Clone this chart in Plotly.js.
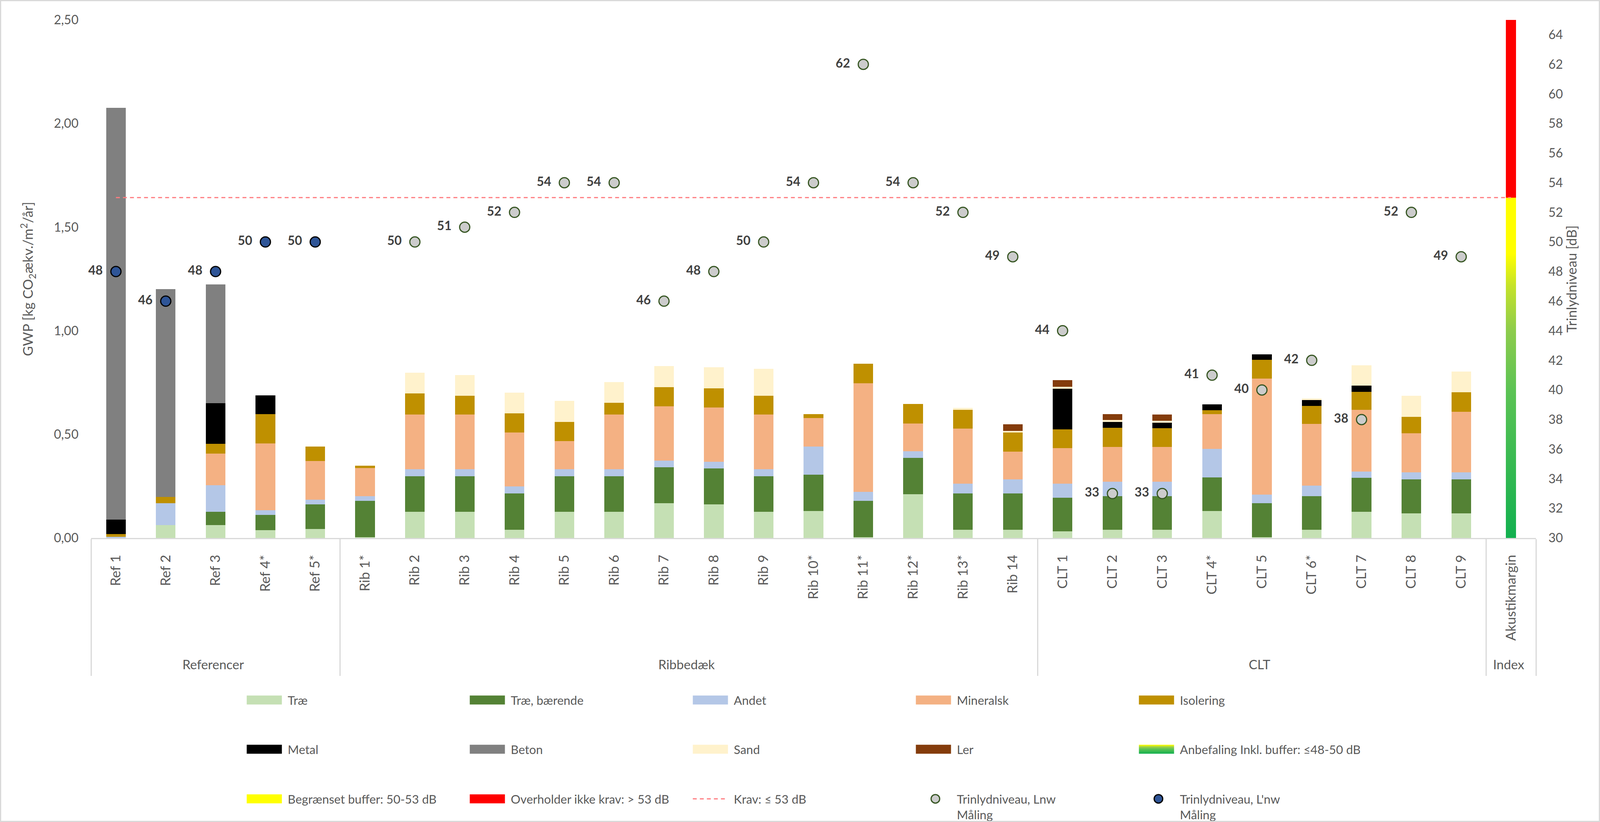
<!DOCTYPE html>
<html><head><meta charset="utf-8">
<script src="https://cdn.plot.ly/plotly-3.0.1.min.js"></script>
<style>
html,body{margin:0;padding:0;background:#fff;overflow:hidden;}
#wrap{position:relative;overflow:hidden;}
#frame{position:absolute;left:0;top:0;box-sizing:border-box;border:3px solid #D9D9D9;pointer-events:none;}
</style></head><body>
<div id="wrap"><div id="chart"></div><div id="frame"></div></div>
<script>
// ---------- DATA ----------
const groups = ['Referencer','Referencer','Referencer','Referencer','Referencer',
  'Ribbedæk','Ribbedæk','Ribbedæk','Ribbedæk','Ribbedæk','Ribbedæk','Ribbedæk','Ribbedæk','Ribbedæk','Ribbedæk','Ribbedæk','Ribbedæk','Ribbedæk','Ribbedæk',
  'CLT','CLT','CLT','CLT','CLT','CLT','CLT','CLT','CLT','Index'];
const categories = ['Ref 1','Ref 2','Ref 3','Ref 4*','Ref 5*',
  'Rib 1*','Rib 2','Rib 3','Rib 4','Rib 5','Rib 6','Rib 7','Rib 8','Rib 9','Rib 10*','Rib 11*','Rib 12*','Rib 13*','Rib 14',
  'CLT 1','CLT 2','CLT 3','CLT 4*','CLT 5','CLT 6*','CLT 7','CLT 8','CLT 9','Akustikmargin'];

// GWP [kg CO2-ækv./m²/år] per material group
const trae       = [0,0.063,0.063,0.037,0.044, 0.003,0.126,0.126,0.040,0.126,0.126,0.168,0.162,0.126,0.131,0.003,0.211,0.040,0.040, 0.033,0.040,0.040,0.131,0.003,0.040,0.126,0.119,0.119, null];
const traeBaer   = [0,0,0.063,0.075,0.118, 0.177,0.172,0.172,0.175,0.172,0.172,0.174,0.173,0.172,0.174,0.177,0.176,0.175,0.175, 0.161,0.162,0.162,0.162,0.164,0.162,0.164,0.164,0.164, null];
const andet      = [0.005,0.105,0.129,0.022,0.023, 0.022,0.034,0.034,0.033,0.034,0.034,0.031,0.033,0.034,0.136,0.042,0.032,0.048,0.068, 0.069,0.070,0.070,0.136,0.042,0.051,0.031,0.033,0.033, null];
const mineralsk  = [0,0,0.153,0.323,0.187, 0.135,0.263,0.263,0.262,0.136,0.263,0.262,0.262,0.263,0.137,0.525,0.134,0.264,0.134, 0.170,0.168,0.168,0.169,0.561,0.297,0.297,0.190,0.293, null];
const isolering  = [0.014,0.030,0.046,0.140,0.069, 0.012,0.103,0.092,0.092,0.092,0.058,0.093,0.092,0.092,0.019,0.094,0.093,0.092,0.093, 0.092,0.092,0.089,0.018,0.090,0.087,0.087,0.079,0.094, null];
const metal      = [0.070,0,0.197,0.092,0, 0,0,0,0,0,0,0,0,0,0,0,0,0,0, 0.196,0.028,0.028,0.028,0.026,0.028,0.030,0,0, null];
const beton      = [1.987,1.003,0.572,0,0, 0,0,0,0,0,0,0,0,0,0,0,0,0,0, 0,0,0,0,0,0,0,0,0, null];
const sand       = [0,0,0,0,0, 0,0.099,0.100,0.099,0.101,0.099,0.101,0.102,0.130,0,0,0,0.009,0.006, 0.008,0.009,0.008,0,0,0.009,0.099,0.101,0.101, null];
const ler        = [0,0,0,0,0, 0,0,0,0,0,0,0,0,0,0,0,0,0,0.032, 0.032,0.029,0.030,0,0,0,0,0,0, null];

// Trinlydniveau [dB]
const lnwMaaling  = [null,null,null,null,null, null,50,51,52,54,54,46,48,50,54,62,54,52,49, 44,33,33,41,40,42,38,52,49, null];
const lpnwMaaling = [48,46,48,50,50, null,null,null,null,null,null,null,null,null,null,null,null,null,null, null,null,null,null,null,null,null,null,null, null];

// Akustikmargin zones [dB]
const zoneBase = [30, 50, 53];
const zoneTop  = [50, 53, 65];
const kravLimit = 53;

// ---------- STYLE ----------
const FONT = 'Lato, "Open Sans", sans-serif';
const GREY = '#595959';
const materialNames  = ['Træ','Træ, bærende','Andet','Mineralsk','Isolering','Metal','Beton','Sand','Ler'];
const materialData   = [trae,traeBaer,andet,mineralsk,isolering,metal,beton,sand,ler];
const materialColors = ['#C5E0B4','#548235','#B4C7E7','#F4B183','#BF9000','#000000','#808080','#FFF2CC','#843C0C'];
const zoneNames  = ['Anbefaling Inkl. buffer: ≤48-50 dB','Begrænset buffer: 50-53 dB','Overholder ikke krav: > 53 dB'];
const zoneColors = ['#12B04F','#FFFF00','#FF0000'];
const legendOf = i => i < 5 ? 'legend' : (i < 10 ? 'legend2' : 'legend3');

// canvas: reference is 5214 x 2104; horizontal layout scaled to the real window width
const W = window.innerWidth || 5214, H = 2104, sx = W / 5214;
['wrap','chart','frame'].forEach(id => { const e = document.getElementById(id); e.style.width = W + 'px'; e.style.height = H + 'px'; });

const x = [groups, categories];
const traces = [];
materialNames.forEach((n,i) => {
  traces.push({type:'bar', name:n, x:x, y:materialData[i], yaxis:'y',
    marker:{color:materialColors[i], line:{width:0}}, legend:legendOf(i), hoverinfo:'skip'});
});
const idx = categories.length - 1;
zoneNames.forEach((n,i) => {
  traces.push({type:'bar', name:n, x:[[groups[idx]],[categories[idx]]], y:[zoneTop[i]-zoneBase[i]], base:[zoneBase[i]],
    yaxis:'y2', width:0.2, marker:{color:zoneColors[i], line:{width:0}}, legend:legendOf(9+i), hoverinfo:'skip'});
});
traces.push({type:'scatter', mode:'lines', name:'Krav: ≤ 53 dB',
  x:[[groups[0],groups[idx]],[categories[0],categories[idx]]], y:[kravLimit,kravLimit], yaxis:'y2',
  line:{color:'#FF7C80', width:3, dash:'10px,8px'}, legend:'legend3', hoverinfo:'skip'});
const lab = arr => arr.map(v => v==null ? null : '<b>'+v+'</b>\u00a0\u00a0');
traces.push({type:'scatter', mode:'markers+text', name:'Trinlydniveau, Lnw<br>Måling', x:x, y:lnwMaaling, yaxis:'y2',
  text:lab(lnwMaaling), textposition:'middle left', textfont:{family:FONT, size:32, color:'#404040'},
  marker:{size:26, color:'#CCCCCC', line:{color:'#375623', width:3}}, legend:'legend3', hoverinfo:'skip', cliponaxis:false});
traces.push({type:'scatter', mode:'markers+text', name:"Trinlydniveau, L'nw<br>Måling", x:x, y:lpnwMaaling, yaxis:'y2',
  text:lab(lpnwMaaling), textposition:'middle left', textfont:{family:FONT, size:32, color:'#404040'},
  marker:{size:26, color:'#2F5597', line:{color:'#000000', width:3}}, legend:'legend3', hoverinfo:'skip', cliponaxis:false});

const ML = Math.round(297*sx), MR = Math.round(209*sx), MT = 51, MB = 727;
const SW = Math.round(115*sx);           // legend swatch width
const IW = SW + 10;                      // legend symbol area (swatch + gap to text)
const legBase = {orientation:'h', xref:'container', yref:'container', x:(804*sx - 5)/W, xanchor:'left', yanchor:'top',
  font:{family:FONT, size:31, color:GREY},
  itemwidth:IW, entrywidth:Math.round(727*sx) - IW - 15, entrywidthmode:'pixels', bgcolor:'rgba(0,0,0,0)',
  traceorder:'normal', itemclick:false, itemdoubleclick:false};
const legY = yTop => 1 - yTop / H;

const layout = {
  width:W, height:H, autosize:false, margin:{l:ML, r:MR, t:MT, b:MB, pad:0, autoexpand:false},
  paper_bgcolor:'#FFFFFF', plot_bgcolor:'#FFFFFF',
  font:{family:FONT, size:32, color:GREY},
  separators:',.',
  barmode:'stack', bargap:0.606,
  hovermode:false,
  xaxis:{type:'multicategory', range:[-0.5, categories.length-0.5], tickangle:-90, showdividers:true, dividercolor:'#D9D9D9', dividerwidth:3,
    showline:true, linecolor:'#D9D9D9', linewidth:3, ticks:'', showgrid:false, zeroline:false, automargin:false,
    tickfont:{family:FONT, size:35, color:GREY}, ticklabelstandoff:26},
  yaxis:{range:[0,2.5], tick0:0, dtick:0.5, tickformat:'.2f', showgrid:false, zeroline:false, showline:false, ticks:'', automargin:false,
    tickfont:{family:FONT, size:32, color:GREY}, ticklabelstandoff:Math.round(40*sx),
    title:{text:'GWP [kg CO<sub>2</sub>ækv./m<sup>2</sup>/år]', font:{family:FONT, size:35, color:GREY}, standoff:42}},
  yaxis2:{overlaying:'y', side:'right', range:[30,65], tick0:30, dtick:2, showgrid:false, zeroline:false, showline:false, ticks:'', automargin:false,
    tickfont:{family:FONT, size:32, color:GREY}, ticklabelstandoff:Math.round(40*sx),
    title:{text:'Trinlydniveau [dB]', font:{family:FONT, size:35, color:GREY}, standoff:10}},
  legend: Object.assign({}, legBase, {y:legY(1765)}),
  legend2: Object.assign({}, legBase, {y:legY(1891)}),
  legend3: Object.assign({}, legBase, {y:legY(2018), valign:'top'}),
  showlegend:true
};

const gd = document.getElementById('chart');
Plotly.newPlot(gd, traces, layout, {staticPlot:true, displayModeBar:false}).then(()=>{
  decorate();
  setTimeout(decorate, 300);
});

function decorate(){
  const ns = 'http://www.w3.org/2000/svg';
  const svg = gd.querySelector('svg.main-svg');
  if(!svg) return;
  if(!document.getElementById('anbGrad')){
    let defs = svg.querySelector('defs');
    if(!defs){ defs = document.createElementNS(ns,'defs'); svg.insertBefore(defs, svg.firstChild); }
    const lg = document.createElementNS(ns,'linearGradient');
    lg.setAttribute('id','anbGrad'); lg.setAttribute('x1','0'); lg.setAttribute('y1','1'); lg.setAttribute('x2','0'); lg.setAttribute('y2','0');
    [[0,'#12B04F'],[0.5,'#5CC354'],[0.7,'#8DCC4C'],[0.85,'#C4E22A'],[0.96,'#FFFF00'],[1,'#FFFF00']].forEach(s=>{
      const st = document.createElementNS(ns,'stop'); st.setAttribute('offset', s[0]); st.setAttribute('stop-color', s[1]); lg.appendChild(st);
    });
    defs.appendChild(lg);
  }
  // gradient fill on the "Anbefaling" zone bar
  gd.querySelectorAll('g.trace.bars').forEach(g=>{
    const d = g.__data__; const t = d && d[0] && d[0].trace;
    if(t && t.name === zoneNames[0]) g.querySelectorAll('path').forEach(p=>{p.style.fill='url(#anbGrad)';});
  });
  // legend swatches sized like the reference (left-aligned in the symbol area)
  const hw = SW/2;
  gd.querySelectorAll('g.traces').forEach(g=>{
    const d = g.__data__; const t = d && d[0] && d[0].trace;
    g.querySelectorAll('g.legendpoints path').forEach(p=>{
      if(p.classList.contains('scatterpts')){
        p.setAttribute('d','M11,-5A11,11 0 1,1 -11,-5A11,11 0 1,1 11,-5Z'.replace(/-5/g,'0'));
      } else {
        p.setAttribute('d','M'+(hw-5)+',11.5H-'+(hw+5)+'V-11.5H'+(hw-5)+'Z');
        if(t && t.name === zoneNames[0]) p.style.fill='url(#anbGrad)';
        if(t && t.name === zoneNames[1]) { p.style.stroke='#FF0000'; p.style.strokeWidth='0'; }
      }
    });
    g.querySelectorAll('path.js-line').forEach(p=>{ p.setAttribute('d','M5,0h'+SW); });
  });
  // group labels and dividers a little deeper, as in the reference
  gd.querySelectorAll('path.xdivider').forEach(p=>{
    const dd = p.getAttribute('d') || '';
    p.setAttribute('d', dd.replace(/([vV])(-?[\d.]+)/, (m,c,v)=> c + (Math.sign(+v)||1)*350));
  });
  gd.querySelectorAll('g.xtick2 text').forEach(t=>{
    if(t.getAttribute('data-shift')) return;
    t.setAttribute('data-shift','1');
    t.setAttribute('transform', (t.getAttribute('transform')||'') + ' translate(0,34)');
    t.style.fontSize = '33px';
  });
}
</script>
</body></html>
